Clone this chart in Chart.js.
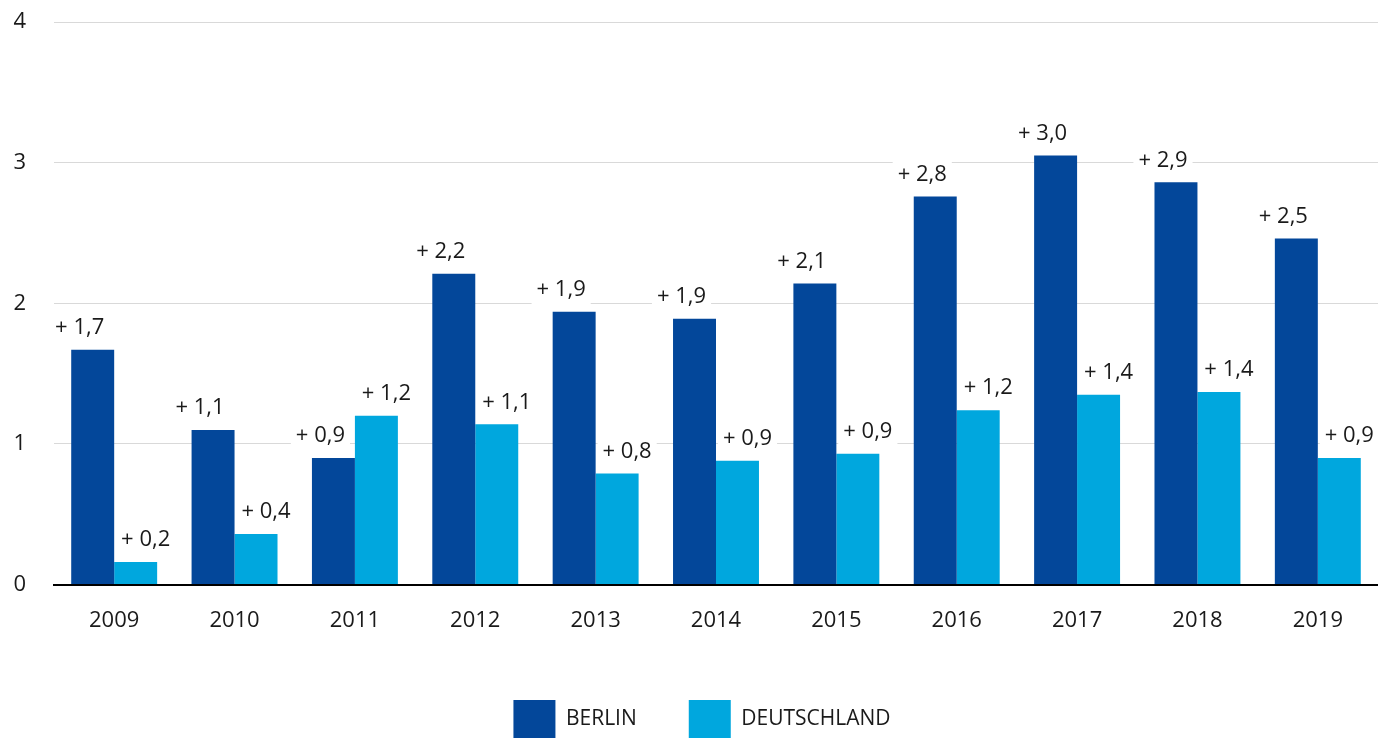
<!DOCTYPE html>
<html>
<head>
<meta charset="utf-8">
<script src="https://cdn.jsdelivr.net/npm/chart.js@4/dist/chart.umd.min.js"></script>
<style>
  html, body { margin: 0; padding: 0; background: #fff; }
  #wrap { width: 1378px; height: 740px; }
</style>
</head>
<body>
<div id="wrap"><canvas id="chart" width="1378" height="740"></canvas></div>
<script>
const years = ['2009', '2010', '2011', '2012', '2013', '2014', '2015', '2016', '2017', '2018', '2019'];
const berlin = [1.67, 1.10, 0.90, 2.21, 1.94, 1.89, 2.14, 2.76, 3.05, 2.86, 2.46];
const deutschland = [0.16, 0.36, 1.20, 1.14, 0.79, 0.88, 0.93, 1.24, 1.35, 1.37, 0.90];
const yTicks = [0, 1, 2, 3, 4];

const FONT = "'Open Sans', sans-serif";
const fmt = v => '+ ' + v.toFixed(1).replace('.', ',');

// value labels with a white box behind them (box cuts the gridlines)
const labelShift = [-13, 10];
const valueLabels = {
    id: 'valueLabels',
    eachLabel(chart, fn) {
        const ctx = chart.ctx;
        ctx.font = '22px ' + FONT;
        chart.data.datasets.forEach((ds, i) => {
            chart.getDatasetMeta(i).data.forEach((bar, j) => {
                const txt = fmt(ds.data[j]);
                const x = bar.x + labelShift[i];
                const y = bar.y - 22;
                fn(ctx, txt, x, y, ctx.measureText(txt).width);
            });
        });
    },
    beforeDatasetsDraw(chart) {
        chart.ctx.save();
        this.eachLabel(chart, (ctx, txt, x, y, w) => {
            ctx.fillStyle = '#fff';
            ctx.fillRect(x - w / 2 - 5, y - 19, w + 10, 38);
        });
        chart.ctx.restore();
    },
    afterDatasetsDraw(chart) {
        chart.ctx.save();
        this.eachLabel(chart, (ctx, txt, x, y) => {
            ctx.fillStyle = '#1a1a1a';
            ctx.textAlign = 'center';
            ctx.textBaseline = 'middle';
            ctx.fillText(txt, x, y);
        });
        chart.ctx.restore();
    }
};

// legend sits a bit right of the canvas centre in the original
const legendNudge = {
    id: 'legendNudge',
    afterLayout(chart) {
        chart.legend.left += 13;
        chart.legend.right += 13;
    }
};

new Chart(document.getElementById('chart'), {
    type: 'bar',
    data: {
        labels: years,
        datasets: [
            { label: 'BERLIN', data: berlin, backgroundColor: '#03479a', borderWidth: 0 },
            { label: 'DEUTSCHLAND', data: deutschland, backgroundColor: '#00a7de', borderWidth: 0 }
        ]
    },
    options: {
        responsive: false,
        animation: false,
        events: [],
        barPercentage: 1,
        categoryPercentage: 0.714,
        layout: { padding: { top: 22, right: 0, bottom: -8, left: 0 } },
        scales: {
            x: {
                afterFit: s => { s.height -= 9; },
                grid: { display: false, drawTicks: false },
                border: { display: true, color: '#000', width: 2 },
                ticks: { color: '#1a1a1a', font: { family: FONT, size: 22 }, padding: 23 }
            },
            y: {
                min: 0,
                max: 4,
                afterFit: s => { s.width = 54; s.paddingTop = 0; s.paddingBottom = 0; },
                afterBuildTicks: s => { s.ticks = yTicks.map(v => ({ value: v })); },
                grid: { color: '#d9d9d9', lineWidth: 1, drawTicks: false },
                border: { display: false },
                ticks: { color: '#1a1a1a', font: { family: FONT, size: 22 }, padding: 28 }
            }
        },
        plugins: {
            legend: {
                position: 'bottom',
                labels: {
                    boxWidth: 42,
                    boxHeight: 38,
                    padding: 52,
                    color: '#1a1a1a',
                    font: { family: FONT, size: 21 }
                }
            },
            tooltip: { enabled: false }
        }
    },
    plugins: [valueLabels, legendNudge]
});
</script>
</body>
</html>
